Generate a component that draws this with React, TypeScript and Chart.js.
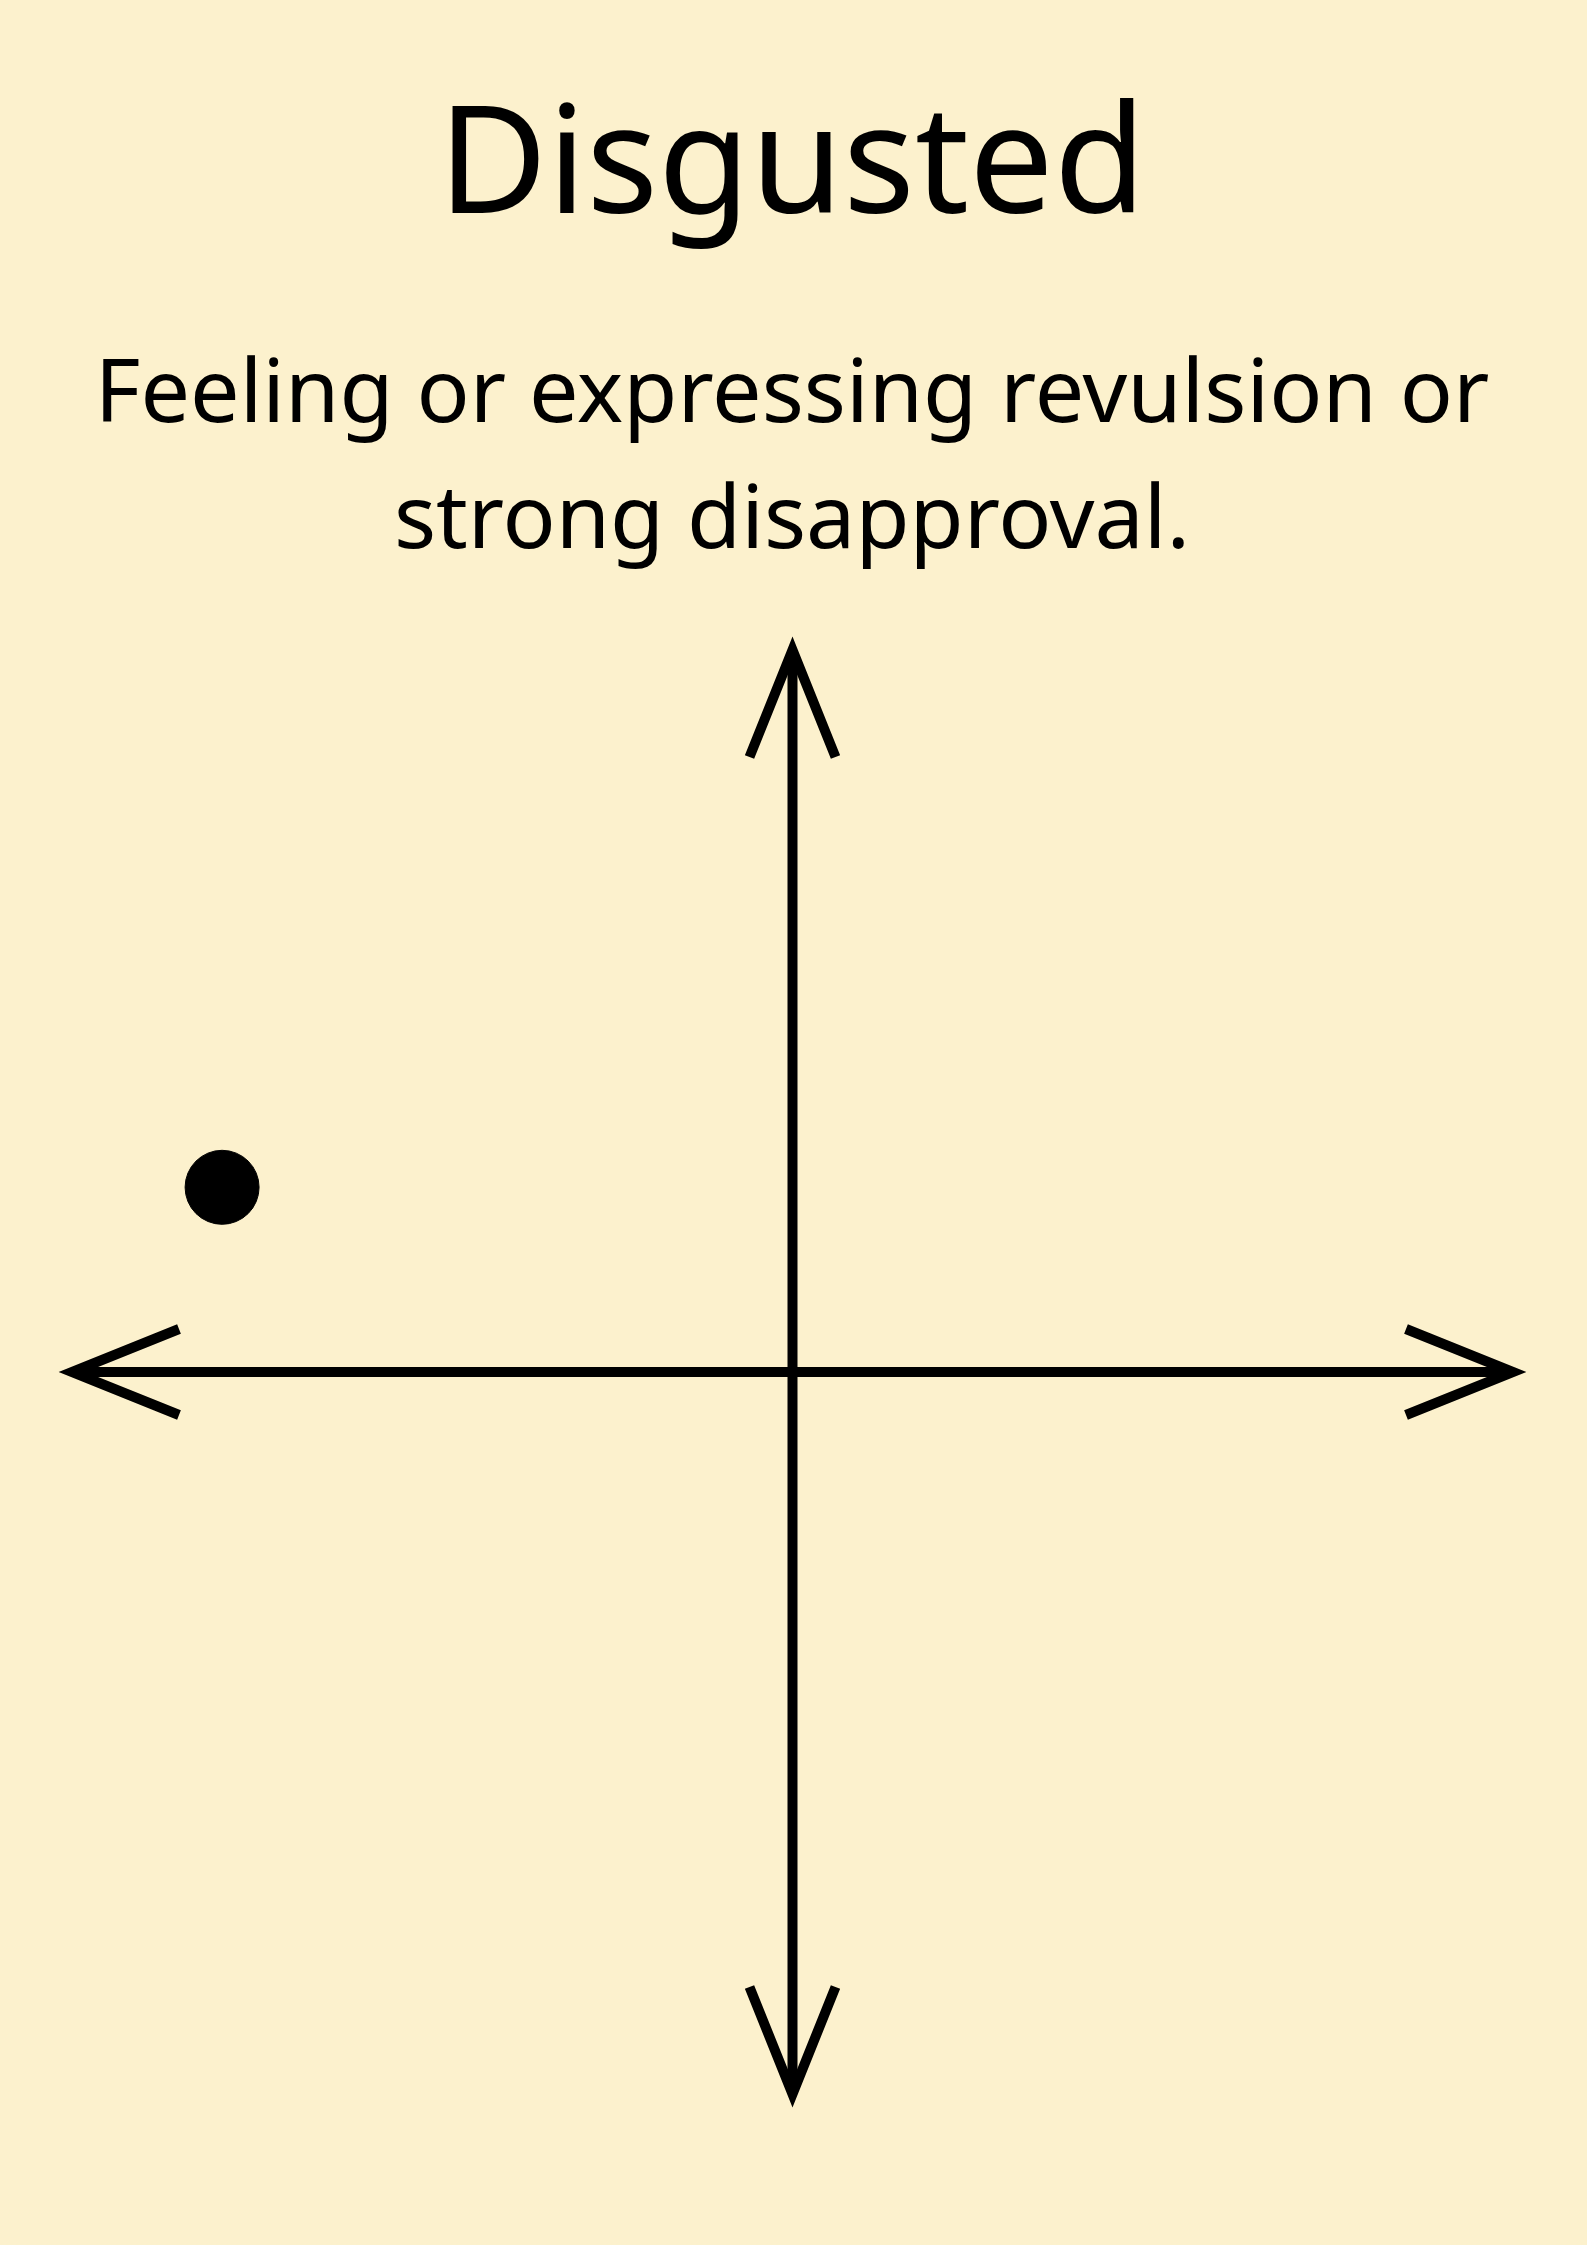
import React, { useEffect, useRef } from "react";
import { Chart, registerables } from "chart.js";
Chart.register(...registerables);

const titleText = "Disgusted";
const subtitleLines = ["Feeling or expressing revulsion or", "strong disapproval."];
const pointX = [-0.783];
const pointY = [0.253];

const BG = "#FCF1CD";

export default function App() {
  const ref = useRef<HTMLCanvasElement>(null);
  useEffect(() => {
    const arrows = {
      id: "arrows",
      afterDraw(chart: any) {
        const ctx = chart.ctx;
        const xs = chart.scales.x, ys = chart.scales.y;
        const x0 = xs.getPixelForValue(0), y0 = ys.getPixelForValue(0);
        const l = xs.getPixelForValue(-1), r = xs.getPixelForValue(1);
        const t = ys.getPixelForValue(1), b = ys.getPixelForValue(-1);
        ctx.save();
        ctx.strokeStyle = "#000";
        ctx.lineWidth = 10;
        ctx.lineCap = "butt";
        ctx.beginPath();
        ctx.moveTo(l + 8, y0); ctx.lineTo(r - 8, y0);
        ctx.moveTo(x0, t + 8); ctx.lineTo(x0, b - 8);
        ctx.stroke();
        const L = 107, W = 43;
        const head = (tx: number, ty: number, dx: number, dy: number) => {
          // dx,dy: unit direction pointing toward the tip
          const px = -dy, py = dx;
          ctx.beginPath();
          ctx.moveTo(tx - dx * L + px * W, ty - dy * L + py * W);
          ctx.lineTo(tx, ty);
          ctx.lineTo(tx - dx * L - px * W, ty - dy * L - py * W);
          ctx.stroke();
        };
        ctx.lineJoin = "miter";
        ctx.miterLimit = 10;
        head(l + 8, y0, -1, 0);
        head(r - 8, y0, 1, 0);
        head(x0, t + 8, 0, -1);
        head(x0, b - 8, 0, 1);
        ctx.fillStyle = "#000";
        ctx.textAlign = "center";
        ctx.textBaseline = "alphabetic";
        ctx.font = "150px 'Noto Sans'";
        ctx.fillText(titleText, 792, 213);
        ctx.font = "88px 'Noto Sans'";
        ctx.fillText(subtitleLines[0], 792, 422);
        ctx.fillText(subtitleLines[1], 792, 548);
        ctx.restore();
      },
    };
    const chart = new Chart(ref.current!, {
      type: "scatter",
      data: {
        datasets: [{
          data: pointX.map((x, i) => ({ x, y: pointY[i] })),
          backgroundColor: "#000",
          borderColor: "#000",
          pointRadius: 37,
        }],
      },
      options: {
        animation: false,
        responsive: false,
        devicePixelRatio: 1,
        layout: { padding: { left: 64, right: 66, top: 642, bottom: 143 } },
        scales: {
          x: { type: "linear", min: -1, max: 1, display: false },
          y: { type: "linear", min: -1, max: 1, display: false },
        },
        plugins: { legend: { display: false }, tooltip: { enabled: false } },
      },
      plugins: [arrows],
    });
    return () => chart.destroy();
  }, []);
  return (
    <div style={{ position: "fixed", left: 0, top: 0, width: 1587, height: 2245, background: BG }}>
      <canvas ref={ref} width={1587} height={2245} style={{ display: "block" }} />
    </div>
  );
}
